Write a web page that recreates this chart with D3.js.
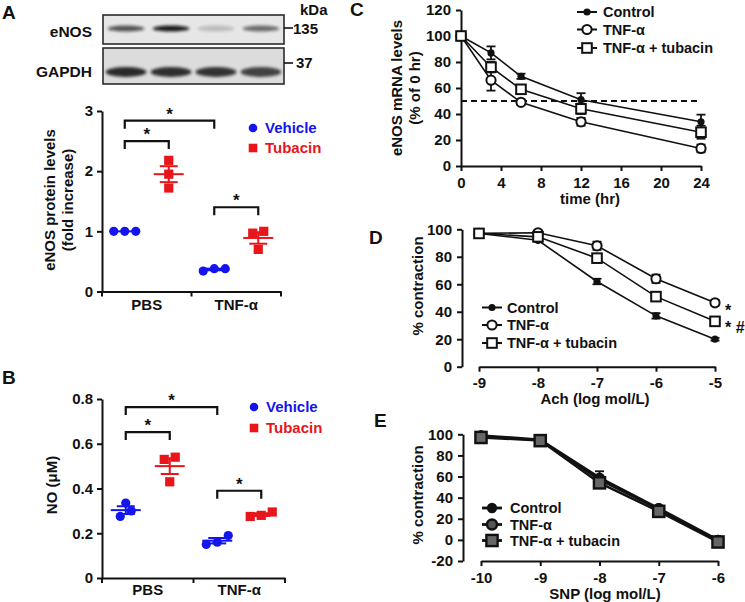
<!DOCTYPE html>
<html><head><meta charset="utf-8">
<script src="https://cdn.jsdelivr.net/npm/d3@7"></script>
<style>
body{margin:0;background:#fff}
svg text{font-family:"Liberation Sans",Arial,sans-serif;font-weight:bold;fill:#111}
</style></head><body>
<svg id="fig" width="745" height="602"></svg>
<script>
// ================= DATA =================
// Western blot (band intensities, relative)
const blotLanes = ["PBS", "PBS+Tubacin", "TNF-α", "TNF-α+Tubacin"];
const eNOSBand = [0.72, 1.0, 0.2, 0.6];
const gapdhBand = [0.95, 0.92, 0.9, 0.82];

// Panels A/B categories
const groups = ["PBS", "TNF-α"];
const treatments = ["Vehicle", "Tubacin"];

// Panel A: eNOS protein levels (fold increase)
const aPBSVehicle = [1.0, 1.0, 1.0];
const aPBSTubacin = [2.18, 1.95, 1.72];
const aTNFVehicle = [0.38, 0.34, 0.38];
const aTNFTubacin = [1.0, 0.97, 0.7];
const aTicks = [0, 1, 2, 3];
// brackets: [group,treatment] -> [group,treatment], height
const aBrackets = [[[0, 0], [1, 0], 2.84], [[0, 0], [0, 1], 2.5], [[1, 0], [1, 1], 1.4]];

// Panel B: NO (µM)
const bPBSVehicle = [0.335, 0.30, 0.275];
const bPBSTubacin = [0.54, 0.53, 0.43];
const bTNFVehicle = [0.19, 0.15, 0.16];
const bTNFTubacin = [0.295, 0.28, 0.275];
const bTicks = [0, 0.2, 0.4, 0.6, 0.8];
const bBrackets = [[[0, 0], [1, 0], 0.764], [[0, 0], [0, 1], 0.652], [[1, 0], [1, 1], 0.39]];

// Panel C: eNOS mRNA levels (% of 0 hr)
const cTime = [0, 3, 6, 12, 24];
const cControl = [100, 87, 69, 51, 34];
const cControlErr = [3, 5, 2, 5, 5.5];
const cTNF = [100, 66, 49, 34, 13.5];
const cTNFErr = [3, 8, 2, 3, 3];
const cTub = [100, 76, 59, 44, 26];
const cTubErr = [3, 4, 3, 4, 5];
const cXTicks = [0, 4, 8, 12, 16, 20, 24];
const cYTicks = [0, 20, 40, 60, 80, 100, 120];
const cHalfLife = 50;

// Panel D: Ach
const dConc = [-9, -8, -7, -6, -5];
const dControl = [97, 92, 62, 37, 20];
const dControlErr = [1, 1, 2, 2, 1];
const dTNF = [97, 97.5, 88, 64, 46.5];
const dTNFErr = [1, 1, 3, 3, 2];
const dTub = [97, 94.5, 79, 51, 33];
const dTubErr = [1, 1, 3, 2, 2];
const dXTicks = [-9, -8, -7, -6, -5];
const dYTicks = [0, 20, 40, 60, 80, 100];

// Panel E: SNP
const eConc = [-10, -9, -8, -7, -6];
const eControl = [99, 95, 59, 30, 0];
const eControlErr = [1, 1, 6, 2, 1];
const eTNF = [98, 94.5, 57, 29, -1];
const eTNFErr = [1, 1, 3, 2, 1];
const eTub = [97, 94, 54, 27, -2];
const eTubErr = [1, 1, 3, 2, 1];
const eXTicks = [-10, -9, -8, -7, -6];
const eYTicks = [-20, 0, 20, 40, 60, 80, 100];

const seriesNames = ["Control", "TNF-α", "TNF-α + tubacin"];

// ================= DRAWING =================
const svg = d3.select("#fig");
const BLUE = "#1414ee", RED = "#e8151b", INK = "#111";

function txt(g, x, y, s, o = {}) {
  const t = g.append("text").attr("x", x).attr("y", y).text(s)
    .attr("font-size", o.size || 15).attr("text-anchor", o.anchor || "start");
  if (o.fill) t.style("fill", o.fill);
  if (o.rotate) t.attr("transform", `rotate(-90,${x},${y})`);
  if (o.dy) t.attr("dy", o.dy);
  return t;
}
function styleAxis(sel, fs) {
  sel.selectAll("path.domain").attr("stroke", INK).attr("stroke-width", 2);
  sel.selectAll(".tick line").attr("stroke", INK).attr("stroke-width", 2);
  sel.selectAll(".tick text").attr("font-size", fs || 15).style("fill", INK)
    .attr("font-family", '"Liberation Sans",Arial,sans-serif').attr("font-weight", "bold");
}

// ---------- Panel labels ----------
txt(svg, 2, 19, "A", {size: 19});
txt(svg, 2, 384, "B", {size: 19});
txt(svg, 350, 16, "C", {size: 19});
txt(svg, 369, 244, "D", {size: 19});
txt(svg, 374, 427, "E", {size: 19});

// ---------- Western blot ----------
const defs = svg.append("defs");
defs.append("filter").attr("id", "blur").attr("x", "-20%").attr("y", "-80%").attr("width", "140%").attr("height", "260%")
  .append("feGaussianBlur").attr("stdDeviation", 1.4);
const lane = d3.scaleBand().domain(blotLanes).range([104, 283]).paddingInner(0.18).paddingOuter(0.08);
const blot = svg.append("g");
blot.append("rect").attr("x", 103).attr("y", 15).attr("width", 181).attr("height", 29)
  .attr("fill", "#e6e6e6").attr("stroke", "#2b2b2b").attr("stroke-width", 1.6);
blot.append("rect").attr("x", 103).attr("y", 48).attr("width", 181).attr("height", 36)
  .attr("fill", "#dcdcdc").attr("stroke", "#2b2b2b").attr("stroke-width", 1.6);
blot.append("g").selectAll("ellipse").data(eNOSBand).join("ellipse")
  .attr("cx", (d, i) => lane(blotLanes[i]) + lane.bandwidth() / 2).attr("cy", 28.5)
  .attr("rx", lane.bandwidth() / 2).attr("ry", 3.0)
  .attr("fill", "#111").attr("opacity", d => d * 0.95).attr("filter", "url(#blur)");
blot.append("g").selectAll("ellipse").data(gapdhBand).join("ellipse")
  .attr("cx", (d, i) => lane(blotLanes[i]) + lane.bandwidth() / 2).attr("cy", 72)
  .attr("rx", lane.bandwidth() / 2 + 2).attr("ry", 5)
  .attr("fill", "#151515").attr("opacity", d => d * 0.95).attr("filter", "url(#blur)");
txt(blot, 92, 37, "eNOS", {anchor: "end", size: 15.5});
txt(blot, 92, 77, "GAPDH", {anchor: "end", size: 15.5});
txt(blot, 300, 15, "kDa", {size: 15});
blot.append("line").attr("x1", 284).attr("x2", 293).attr("y1", 28).attr("y2", 28).attr("stroke", INK).attr("stroke-width", 1.6);
txt(blot, 293, 34, "135", {size: 15});
blot.append("line").attr("x1", 284).attr("x2", 293).attr("y1", 63).attr("y2", 63).attr("stroke", INK).attr("stroke-width", 1.6);
txt(blot, 296, 68, "37", {size: 15});

// ---------- Scatter panels ----------
function scatterPanel(o) {
  const g = svg.append("g");
  const y = d3.scaleLinear().domain(o.yDomain).range([o.yBottom, o.yTop]);
  const x = d3.scaleBand().domain(groups).range([o.xLeft, o.xRight]);
  const cx = (gi, ti) => x(groups[gi]) + x.bandwidth() / 2 + (ti === 0 ? -o.off : o.off);

  // y axis
  const ya = g.append("g").attr("transform", `translate(${o.xLeft},0)`)
    .call(d3.axisLeft(y).tickValues(o.yTicks).tickSize(5).tickSizeOuter(0).tickPadding(4).tickFormat(o.fmt));
  styleAxis(ya, 15);
  // x axis
  const xa = g.append("g").attr("transform", `translate(0,${o.yBottom})`)
    .call(d3.axisBottom(x).tickSize(0).tickSizeOuter(0).tickPadding(o.xPad));
  styleAxis(xa, 15);
  const bounds = [o.xLeft].concat(groups.slice(1).map(d => x(d))).concat([o.xRight]);
  g.selectAll("line.bt").data(bounds).join("line").attr("class", "bt")
    .attr("x1", d => d).attr("x2", d => d).attr("y1", o.yBottom).attr("y2", o.yBottom + 5)
    .attr("stroke", INK).attr("stroke-width", 2);

  // y label
  o.yLabel.forEach((s, i) => txt(g, o.yLabelX[i], o.yLabelY, s, {anchor: "middle", rotate: true, size: 15, dy: "0.35em"}));

  // data
  o.data.forEach((vals, k) => {
    const gi = Math.floor(k / 2), ti = k % 2;
    const col = ti === 0 ? BLUE : RED;
    const c = cx(gi, ti);
    const m = d3.mean(vals), sem = d3.deviation(vals) / Math.sqrt(vals.length);
    g.append("line").attr("x1", c - 15).attr("x2", c + 15).attr("y1", y(m)).attr("y2", y(m)).attr("stroke", col).attr("stroke-width", 2);
    if (sem > 0) {
      g.append("line").attr("x1", c).attr("x2", c).attr("y1", y(m - sem)).attr("y2", y(m + sem)).attr("stroke", col).attr("stroke-width", 2);
      [m - sem, m + sem].forEach(v => g.append("line").attr("x1", c - 9).attr("x2", c + 9).attr("y1", y(v)).attr("y2", y(v)).attr("stroke", col).attr("stroke-width", 2));
    }
    const idx = d3.range(vals.length).sort((a, b) => vals[a] - vals[b]);
    const clusters = [];
    idx.forEach(i => {
      const last = clusters[clusters.length - 1];
      if (last && Math.abs(y(vals[i]) - y(vals[last[last.length - 1]])) < 7) last.push(i); else clusters.push([i]);
    });
    const px = new Array(vals.length);
    clusters.forEach(cl => cl.forEach((i, j) => px[i] = c + (j - (cl.length - 1) / 2) * 11));
    vals.forEach((v, i) => {
      if (ti === 0) g.append("circle").attr("cx", px[i]).attr("cy", y(v)).attr("r", 4.6).attr("fill", col);
      else g.append("rect").attr("x", px[i] - 4.6).attr("y", y(v) - 4.6).attr("width", 9.2).attr("height", 9.2).attr("fill", col);
    });
  });

  // brackets
  o.brackets.forEach(([a, b, h]) => {
    const x1 = cx(a[0], a[1]), x2 = cx(b[0], b[1]), yy = y(h);
    g.append("path").attr("d", `M${x1},${yy + 8}V${yy}H${x2}V${yy + 8}`).attr("fill", "none").attr("stroke", INK).attr("stroke-width", 2.2);
    txt(g, (x1 + x2) / 2, yy - 1, "*", {anchor: "middle", size: 17});
  });

  // legend
  treatments.forEach((t, i) => {
    const ly = o.legendY[i], col = i === 0 ? BLUE : RED;
    if (i === 0) g.append("circle").attr("cx", o.legendX).attr("cy", ly).attr("r", 4.3).attr("fill", col);
    else g.append("rect").attr("x", o.legendX - 4.3).attr("y", ly - 4.3).attr("width", 8.6).attr("height", 8.6).attr("fill", col);
    txt(g, o.legendX + 12, ly + 5, t, {size: 15, fill: col});
  });
}

scatterPanel({
  yDomain: [0, 3], yBottom: 291.5, yTop: 111, xLeft: 102, xRight: 281, off: 22, xPad: 8,
  yTicks: aTicks, fmt: d3.format("d"),
  yLabel: ["eNOS protein levels", "(fold increase)"], yLabelX: [50, 68], yLabelY: 200,
  data: [aPBSVehicle, aPBSTubacin, aTNFVehicle, aTNFTubacin], brackets: aBrackets,
  legendX: 253, legendY: [128, 148]
});
scatterPanel({
  yDomain: [0, 0.8], yBottom: 578, yTop: 399, xLeft: 102, xRight: 285, off: 22, xPad: 6,
  yTicks: bTicks, fmt: d => d === 0 ? "0" : d3.format(".1f")(d),
  yLabel: ["NO  (μM)"], yLabelX: [52], yLabelY: 485,
  data: [bPBSVehicle, bPBSTubacin, bTNFVehicle, bTNFTubacin], brackets: bBrackets,
  legendX: 254, legendY: [407, 428]
});

// ---------- Line panels ----------
function marker(g, type, x, y, s) {
  if (type === "filled") g.append("circle").attr("cx", x).attr("cy", y).attr("r", s.r).attr("fill", INK);
  else if (type === "open") g.append("circle").attr("cx", x).attr("cy", y).attr("r", s.r).attr("fill", s.openFill || "#fff").attr("stroke", INK).attr("stroke-width", s.sw);
  else g.append("rect").attr("x", x - s.h).attr("y", y - s.h).attr("width", 2 * s.h).attr("height", 2 * s.h).attr("fill", s.openFill || "#fff").attr("stroke", INK).attr("stroke-width", s.sw);
}
function linePanel(o) {
  const g = svg.append("g");
  const x = d3.scaleLinear().domain(o.xDomain).range(o.xRange);
  const y = d3.scaleLinear().domain(o.yDomain).range(o.yRange);
  const ya = g.append("g").attr("transform", `translate(${o.yAxisX},0)`)
    .call(d3.axisLeft(y).tickValues(o.yTicks).tickSize(5).tickSizeOuter(0).tickPadding(5).tickFormat(d3.format("d")));
  styleAxis(ya, 15);
  ya.selectAll(".tick text").text(d => d < 0 ? "-" + Math.abs(d) : d);
  const xa = g.append("g").attr("transform", `translate(0,${y(o.yDomain[0])})`)
    .call(d3.axisBottom(x).tickValues(o.xTicks).tickSize(5).tickSizeOuter(0).tickPadding(6).tickFormat(d3.format("d")));
  styleAxis(xa, 15);
  xa.selectAll(".tick text").text(d => d < 0 ? "-" + Math.abs(d) : d);

  if (o.refLine !== undefined) {
    g.append("line").attr("x1", x(o.xDomain[0])).attr("x2", x(o.xDomain[1])).attr("y1", y(o.refLine)).attr("y2", y(o.refLine))
      .attr("stroke", INK).attr("stroke-width", 1.8).attr("stroke-dasharray", "6,4");
  }
  const line = d3.line().x(d => x(d[0])).y(d => y(d[1]));
  o.series.forEach(s => {
    g.append("path").attr("d", line(o.xs.map((xv, i) => [xv, s.v[i]]))).attr("fill", "none").attr("stroke", INK).attr("stroke-width", o.lw);
  });
  o.series.forEach(s => {
    o.xs.forEach((xv, i) => {
      const px = x(xv), y1 = y(s.v[i] - s.e[i]), y2 = y(s.v[i] + s.e[i]);
      g.append("line").attr("x1", px).attr("x2", px).attr("y1", y1).attr("y2", y2).attr("stroke", INK).attr("stroke-width", 1.8);
      [y1, y2].forEach(yy => g.append("line").attr("x1", px - 4.5).attr("x2", px + 4.5).attr("y1", yy).attr("y2", yy).attr("stroke", INK).attr("stroke-width", 1.8));
    });
  });
  o.series.forEach(s => o.xs.forEach((xv, i) => marker(g, s.type, x(xv), y(s.v[i]), o.ms[s.type])));

  o.series.forEach((s, i) => {
    const ly = o.legendY[i];
    g.append("line").attr("x1", o.legendX).attr("x2", o.legendX + 20).attr("y1", ly).attr("y2", ly).attr("stroke", INK).attr("stroke-width", o.lw + 0.4);
    marker(g, s.type, o.legendX + 10, ly, o.legMs[s.type]);
    txt(g, o.legendTextX, ly + 5, seriesNames[i], {size: 14.5});
  });
  o.yLabel.forEach((s, i) => txt(g, o.yLabelX[i], o.yLabelY, s, {anchor: "middle", rotate: true, size: 15, dy: "0.35em"}));
  txt(g, o.xLabelX, o.xLabelY, o.xLabel, {anchor: "middle", size: 15});
  (o.notes || []).forEach(n => txt(g, n[0], n[1], n[2], {size: 16}));
}

const smallMs = {filled: {r: 3.6}, open: {r: 4.6, sw: 2}, square: {h: 4.8, sw: 2}};
linePanel({
  xDomain: [0, 24], xRange: [461, 701], yDomain: [0, 120], yRange: [166, 10], yAxisX: 461,
  xTicks: cXTicks, yTicks: cYTicks, xs: cTime, lw: 1.6, refLine: cHalfLife,
  series: [{v: cControl, e: cControlErr, type: "filled"}, {v: cTNF, e: cTNFErr, type: "open"}, {v: cTub, e: cTubErr, type: "square"}],
  ms: smallMs, legMs: smallMs,
  legendX: 577, legendTextX: 603, legendY: [12, 29.5, 48],
  yLabel: ["eNOS mRNA levels", "(% of 0 hr)"], yLabelX: [397, 415], yLabelY: 88,
  xLabel: "time (hr)", xLabelX: 590, xLabelY: 204
});
linePanel({
  xDomain: [-9, -5], xRange: [479, 715], yDomain: [0, 100], yRange: [366.7, 229.3], yAxisX: 462,
  xTicks: dXTicks, yTicks: dYTicks, xs: dConc, lw: 1.6,
  series: [{v: dControl, e: dControlErr, type: "filled"}, {v: dTNF, e: dTNFErr, type: "open"}, {v: dTub, e: dTubErr, type: "square"}],
  ms: smallMs, legMs: smallMs,
  legendX: 482, legendTextX: 507, legendY: [307.5, 325, 343],
  yLabel: ["% contraction"], yLabelX: [418], yLabelY: 286,
  xLabel: "Ach (log mol/L)", xLabelX: 595, xLabelY: 404,
  notes: [[725, 316, "*"], [725, 333, "* #"]]
});
const bigMs = {filled: {r: 5.2}, open: {r: 5, sw: 2.4, openFill: "#555"}, square: {h: 5.6, sw: 2.4, openFill: "#666"}};
linePanel({
  xDomain: [-10, -6], xRange: [481, 718], yDomain: [-20, 100], yRange: [561, 434.3], yAxisX: 463,
  xTicks: eXTicks, yTicks: eYTicks, xs: eConc, lw: 2.4,
  series: [{v: eControl, e: eControlErr, type: "filled"}, {v: eTNF, e: eTNFErr, type: "open"}, {v: eTub, e: eTubErr, type: "square"}],
  ms: bigMs, legMs: bigMs,
  legendX: 482, legendTextX: 510, legendY: [508, 524.5, 540.5],
  yLabel: ["% contraction"], yLabelX: [418], yLabelY: 495,
  xLabel: "SNP (log mol/L)", xLabelX: 605, xLabelY: 599
});
</script>
</body></html>
